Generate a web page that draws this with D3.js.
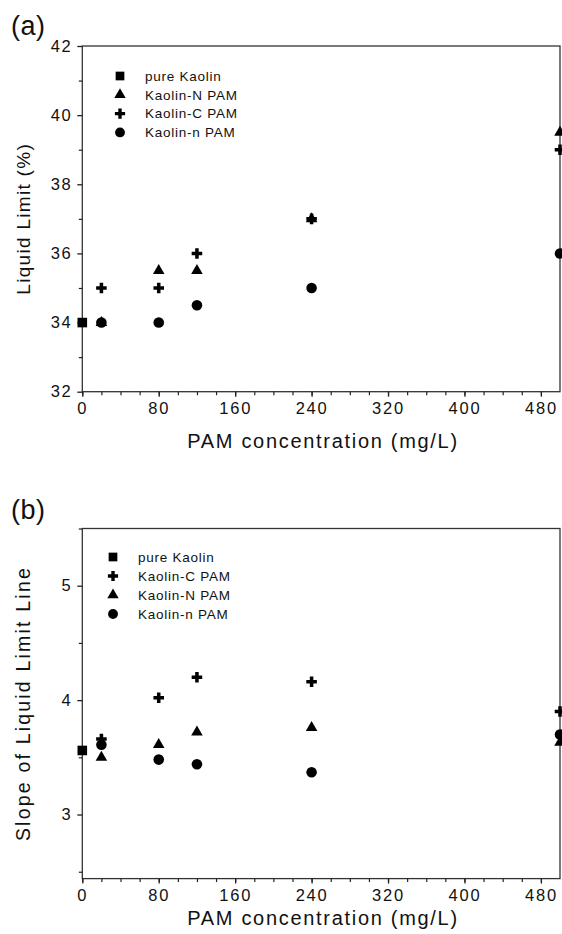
<!DOCTYPE html>
<html><head><meta charset="utf-8">
<script src="https://cdn.jsdelivr.net/npm/d3@7"></script>
<style>
html,body{margin:0;padding:0;background:#fff;}
svg{display:block;}
text{font-family:"Liberation Sans",Arial,sans-serif;fill:#111;}
</style></head>
<body>
<svg id="chart" width="562" height="934"></svg>
<script>
// ---- data ----
const xPos = [20, 80, 120, 240, 500];
const xMajorTicks = [0, 80, 160, 240, 320, 400, 480];
const xMinorTicks = d3.range(0, 500, 20);

// panel (a): Liquid Limit (%)
const pureA = [34];            // at 0 mg/L
const nPamA = [34, 35.5, 35.5, 37, 39.5];
const cPamA = [35, 35, 36, 37, 39];
const nnPamA = [34, 34, 34.5, 35, 36];
const yTicksA = [32, 34, 36, 38, 40, 42];
const yMinorA = [33, 35, 37, 39, 41];

// panel (b): Slope of Liquid Limit Line
const pureB = [3.56];
const cPamB = [3.66, 4.02, 4.20, 4.16, 3.90];
const nPamB = [3.50, 3.61, 3.72, 3.76, 3.63];
const nnPamB = [3.61, 3.48, 3.44, 3.37, 3.70];
const yTicksB = [3, 4, 5];
const yMinorB = [2.5, 3.5, 4.5, 5.5];

const svg = d3.select("#chart");
const FONT = "Liberation Sans, Arial, sans-serif";

const symGen = (type, size) => d3.symbol().type(type).size(size)();
const plotSym = {
  square: symGen(d3.symbolSquare, 92),
  triangle: symGen(d3.symbolTriangle, 58),
  cross: symGen(d3.symbolCross, 62),
  circle: symGen(d3.symbolCircle, 88)
};
const legSym = {
  square: symGen(d3.symbolSquare, 76),
  triangle: symGen(d3.symbolTriangle, 56),
  cross: symGen(d3.symbolCross, 58),
  circle: symGen(d3.symbolCircle, 76)
};

function panel(cfg) {
  const x = d3.scaleLinear().domain([0, 500]).range([82.3, 560]);
  const y = d3.scaleLinear().domain(cfg.yDomain).range(cfg.yRange);
  const g = svg.append("g");
  const top = cfg.yRange[1], bottom = cfg.yRange[0];

  // frame
  g.append("rect").attr("x", x(0)).attr("y", top)
    .attr("width", x(500) - x(0)).attr("height", bottom - top)
    .attr("fill", "none").attr("stroke", "#333").attr("stroke-width", 1.3);

  // x axis minor
  g.append("g").attr("transform", `translate(0,${bottom})`)
    .call(d3.axisBottom(x).tickValues(xMinorTicks).tickSize(3.5).tickFormat(""))
    .call(a => { a.select(".domain").remove(); a.selectAll("line").attr("stroke", "#222").attr("stroke-width", 1.2); });
  // x axis major
  g.append("g").attr("transform", `translate(0,${bottom})`)
    .call(d3.axisBottom(x).tickValues(xMajorTicks).tickSize(5).tickSizeOuter(0).tickPadding(6))
    .call(a => {
      a.select(".domain").remove();
      a.selectAll("line").attr("stroke", "#222").attr("stroke-width", 1.3);
      a.selectAll("text").attr("font-size", 16.5).style("letter-spacing", "1.8px").attr("fill", "#111")
        .attr("font-family", FONT);
    });

  // y axis minor
  g.append("g").attr("transform", `translate(${x(0)},0)`)
    .call(d3.axisLeft(y).tickValues(cfg.yMinor).tickSize(3.5).tickFormat(""))
    .call(a => { a.select(".domain").remove(); a.selectAll("line").attr("stroke", "#222").attr("stroke-width", 1.2); });
  // y axis major
  g.append("g").attr("transform", `translate(${x(0)},0)`)
    .call(d3.axisLeft(y).tickValues(cfg.yTicks).tickSize(5).tickSizeOuter(0).tickPadding(5).tickFormat(d3.format("d")))
    .call(a => {
      a.select(".domain").remove();
      a.selectAll("line").attr("stroke", "#222").attr("stroke-width", 1.3);
      a.selectAll("text").attr("font-size", 16.5).style("letter-spacing", "1.6px").attr("fill", "#111")
        .attr("font-family", FONT);
    });

  // axis titles
  g.append("text").attr("x", 323).attr("y", cfg.xTitleY).attr("text-anchor", "middle")
    .attr("font-size", 20).style("letter-spacing", "1.7px").text("PAM concentration (mg/L)");
  g.append("text").attr("transform", `translate(30,${(top + bottom) / 2}) rotate(-90)`)
    .attr("text-anchor", "middle").attr("font-size", cfg.yTitleSize)
    .style("letter-spacing", cfg.yTitleLs + "px").text(cfg.yTitle);

  // panel label
  g.append("text").attr("x", 11).attr("y", cfg.labelY).attr("font-size", 27)
    .style("letter-spacing", "0.5px").text(cfg.label);

  // series
  cfg.series.forEach(s => {
    const pts = s.values.map((v, i) => [s.xs[i], v]);
    g.append("g").selectAll("path").data(pts).join("path")
      .attr("d", plotSym[s.shape]).attr("fill", "#000")
      .attr("transform", d => `translate(${x(d[0])},${y(d[1])})`);
  });

  // legend
  const lg = g.append("g").attr("transform", `translate(${cfg.legendX},${cfg.legendY})`);
  cfg.legend.forEach((s, i) => {
    lg.append("path").attr("d", legSym[s.shape])
      .attr("fill", "#000").attr("transform", `translate(0,${i * cfg.legendStep})`);
    lg.append("text").attr("x", 25).attr("y", i * cfg.legendStep).attr("dy", "0.35em")
      .attr("font-size", 13.5).style("letter-spacing", "0.75px").text(s.name);
  });
}

const legendA = [
  {name: "pure Kaolin", shape: "square"},
  {name: "Kaolin-N PAM", shape: "triangle"},
  {name: "Kaolin-C PAM", shape: "cross"},
  {name: "Kaolin-n PAM", shape: "circle"}
];
const legendB = [
  {name: "pure Kaolin", shape: "square"},
  {name: "Kaolin-C PAM", shape: "cross"},
  {name: "Kaolin-N PAM", shape: "triangle"},
  {name: "Kaolin-n PAM", shape: "circle"}
];

panel({
  yDomain: [32, 42], yRange: [391.7, 46],
  yTicks: yTicksA, yMinor: yMinorA,
  yTitle: "Liquid Limit (%)", yTitleSize: 19, yTitleLs: 1.3,
  label: "(a)", labelY: 35,
  xTitleY: 448,
  legendX: 120, legendY: 76, legendStep: 18.8, legend: legendA,
  series: [
    {shape: "triangle", xs: xPos, values: nPamA},
    {shape: "cross", xs: xPos, values: cPamA},
    {shape: "circle", xs: xPos, values: nnPamA},
    {shape: "square", xs: [0], values: pureA}
  ]
});

panel({
  yDomain: [2.44, 5.5], yRange: [878.6, 528.5],
  yTicks: yTicksB, yMinor: yMinorB,
  yTitle: "Slope of Liquid Limit Line", yTitleSize: 19.5, yTitleLs: 2.2,
  label: "(b)", labelY: 519,
  xTitleY: 925,
  legendX: 113, legendY: 557, legendStep: 19, legend: legendB,
  series: [
    {shape: "triangle", xs: xPos, values: nPamB},
    {shape: "circle", xs: xPos, values: nnPamB},
    {shape: "cross", xs: xPos, values: cPamB},
    {shape: "square", xs: [0], values: pureB}
  ]
});
</script>
</body></html>
